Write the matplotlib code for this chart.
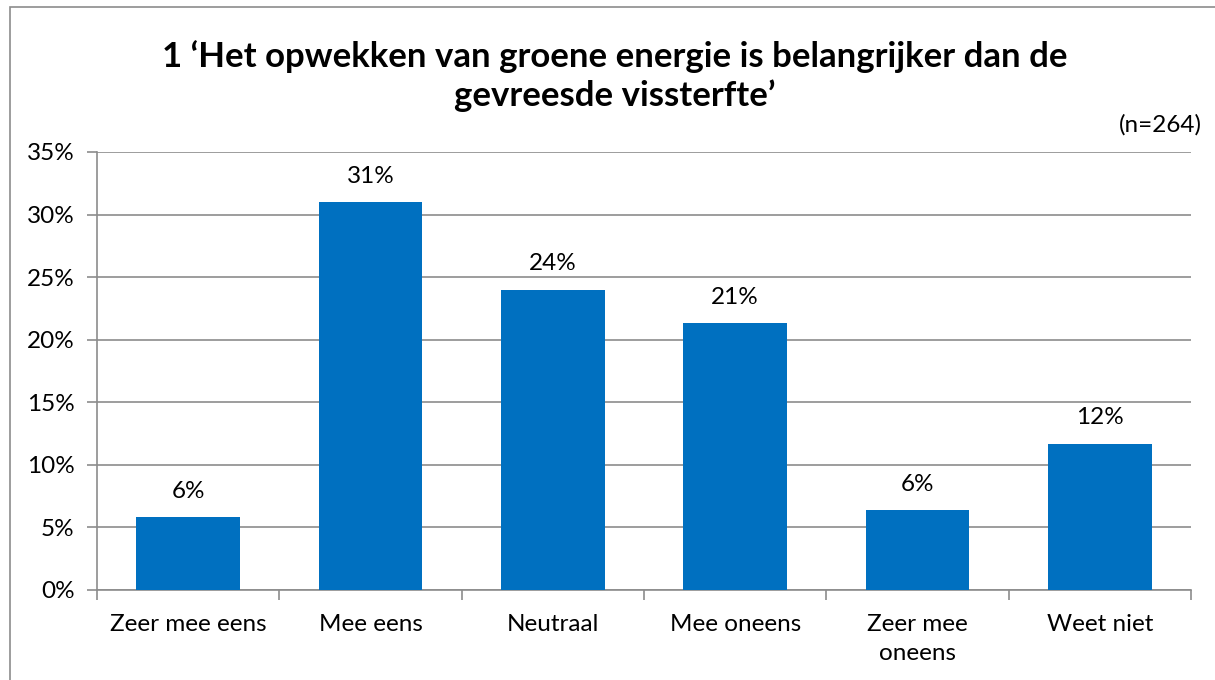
import matplotlib.pyplot as plt
from matplotlib import patches
import numpy as np

plt.rcParams['font.family'] = ['Lato', 'DejaVu Sans']

categories = ['Zeer mee eens', 'Mee eens', 'Neutraal', 'Mee oneens', 'Zeer mee\noneens', 'Weet niet']
values = [5.8, 31.0, 24.0, 21.3, 6.4, 11.7]
labels = ['6%', '31%', '24%', '21%', '6%', '12%']
yticks = [0, 5, 10, 15, 20, 25, 30, 35]

fig = plt.figure(figsize=(12.15, 6.8), dpi=100)
ax = fig.add_axes([97/1215, 1-590/680, (1191-97)/1215, (590-152)/680])

# outer chart border
fig.add_artist(patches.Rectangle((10/1215, -0.01), 1.02, 1 - 7/680 + 0.01,
                                 transform=fig.transFigure, fill=False,
                                 edgecolor='#8c8c8c', linewidth=1.2))

x = np.arange(len(categories))
ax.bar(x, values, width=0.57, color='#0070C0', zorder=3)

for xi, v, lab in zip(x, values, labels):
    ax.annotate(lab, xy=(xi, v), xytext=(0, 11), textcoords='offset points',
                ha='center', va='bottom', fontsize=17.5)

ax.set_xlim(-0.5, len(categories) - 0.5)
ax.set_ylim(0, 35)
ax.set_yticks(yticks)
ax.set_yticklabels([f'{t}%' for t in yticks], fontsize=17.5)
ax.yaxis.grid(True, color='#8c8c8c', linewidth=1.2, zorder=0)

ax.set_xticks(x)
ax.set_xticklabels(categories, fontsize=17.5, linespacing=1.5)
ax.set_xticks(np.arange(-0.5, len(categories)), minor=True)
ax.tick_params(axis='x', which='major', length=0, pad=17)
ax.tick_params(axis='x', which='minor', length=7, color='#8c8c8c', width=1.2)
ax.tick_params(axis='y', length=7, color='#8c8c8c', width=1.2, pad=9)

for s in ['top', 'right']:
    ax.spines[s].set_visible(False)
for s in ['left', 'bottom']:
    ax.spines[s].set_color('#8c8c8c')
    ax.spines[s].set_linewidth(1.2)

fig.text(615/1215, 1 - 76/680, "1 \u2018Het opwekken van groene energie is belangrijker dan de\ngevreesde vissterfte\u2019",
         ha='center', va='center', fontsize=25, fontweight='bold', linespacing=1.25)
fig.text(1202/1215, 1 - 125/680, '(n=264)', ha='right', va='center', fontsize=17.5)

fig.savefig('out.png', dpi=100)
